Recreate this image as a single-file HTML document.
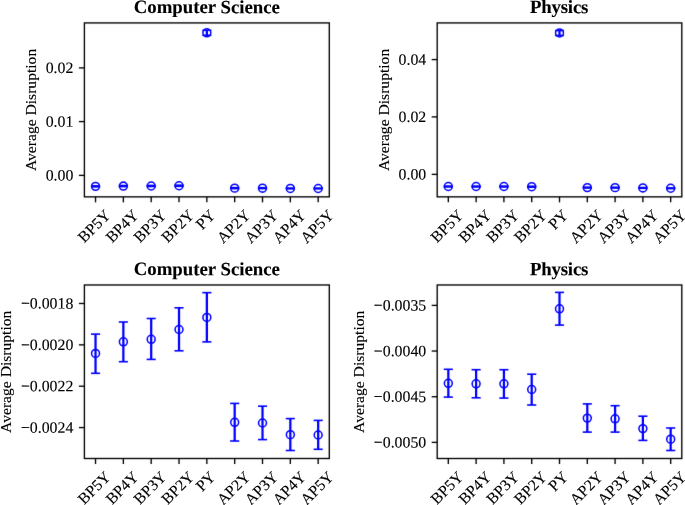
<!DOCTYPE html><html><head><meta charset="utf-8"><style>html,body{margin:0;padding:0;background:#fff;}svg{display:block;}text{font-family:"Liberation Serif",serif;fill:#000;}text{stroke:#000;stroke-width:0.12px;}</style></head><body>
<svg width="685" height="505" viewBox="0 0 685 505">
<defs><filter id="bl" x="0" y="0" width="685" height="505" filterUnits="userSpaceOnUse" color-interpolation-filters="sRGB"><feConvolveMatrix order="3" kernelMatrix="0.0064 0.0672 0.0064 0.0672 0.7056 0.0672 0.0064 0.0672 0.0064" divisor="1" edgeMode="duplicate"/></filter><filter id="tb" x="0" y="0" width="685" height="505" filterUnits="userSpaceOnUse" color-interpolation-filters="sRGB"><feConvolveMatrix order="3" kernelMatrix="0.0000 0.0010 0.0000 0.0010 0.9960 0.0010 0.0000 0.0010 0.0000" divisor="1" edgeMode="duplicate"/></filter></defs>
<rect width="685" height="505" fill="#fff"/>
<g filter="url(#bl)">
<line x1="95.53" y1="185.85" x2="95.53" y2="186.87" stroke="#0000ff" stroke-width="2.25"/>
<line x1="90.98" y1="185.85" x2="100.08" y2="185.85" stroke="#0000ff" stroke-width="1.6"/>
<line x1="90.98" y1="186.87" x2="100.08" y2="186.87" stroke="#0000ff" stroke-width="1.6"/>
<circle cx="95.53" cy="186.35" r="3.95" fill="none" stroke="#0000ff" stroke-width="1.55"/>
<line x1="123.36" y1="185.53" x2="123.36" y2="186.57" stroke="#0000ff" stroke-width="2.25"/>
<line x1="118.81" y1="185.53" x2="127.91" y2="185.53" stroke="#0000ff" stroke-width="1.6"/>
<line x1="118.81" y1="186.57" x2="127.91" y2="186.57" stroke="#0000ff" stroke-width="1.6"/>
<circle cx="123.36" cy="186.05" r="3.95" fill="none" stroke="#0000ff" stroke-width="1.55"/>
<line x1="151.19" y1="185.44" x2="151.19" y2="186.51" stroke="#0000ff" stroke-width="2.25"/>
<line x1="146.64" y1="185.44" x2="155.74" y2="185.44" stroke="#0000ff" stroke-width="1.6"/>
<line x1="146.64" y1="186.51" x2="155.74" y2="186.51" stroke="#0000ff" stroke-width="1.6"/>
<circle cx="151.19" cy="185.98" r="3.95" fill="none" stroke="#0000ff" stroke-width="1.55"/>
<line x1="179.02" y1="185.17" x2="179.02" y2="186.28" stroke="#0000ff" stroke-width="2.25"/>
<line x1="174.47" y1="185.17" x2="183.57" y2="185.17" stroke="#0000ff" stroke-width="1.6"/>
<line x1="174.47" y1="186.28" x2="183.57" y2="186.28" stroke="#0000ff" stroke-width="1.6"/>
<circle cx="179.02" cy="185.73" r="3.95" fill="none" stroke="#0000ff" stroke-width="1.55"/>
<line x1="206.85" y1="30.3" x2="206.85" y2="35.3" stroke="#0000ff" stroke-width="2.25"/>
<line x1="202.3" y1="30.3" x2="211.4" y2="30.3" stroke="#0000ff" stroke-width="1.6"/>
<line x1="202.3" y1="35.3" x2="211.4" y2="35.3" stroke="#0000ff" stroke-width="1.6"/>
<circle cx="206.85" cy="32.8" r="3.95" fill="none" stroke="#0000ff" stroke-width="1.55"/>
<line x1="234.68" y1="187.65" x2="234.68" y2="188.63" stroke="#0000ff" stroke-width="2.25"/>
<line x1="230.13" y1="187.65" x2="239.23" y2="187.65" stroke="#0000ff" stroke-width="1.6"/>
<line x1="230.13" y1="188.63" x2="239.23" y2="188.63" stroke="#0000ff" stroke-width="1.6"/>
<circle cx="234.68" cy="188.14" r="3.95" fill="none" stroke="#0000ff" stroke-width="1.55"/>
<line x1="262.51" y1="187.72" x2="262.51" y2="188.59" stroke="#0000ff" stroke-width="2.25"/>
<line x1="257.96" y1="187.72" x2="267.06" y2="187.72" stroke="#0000ff" stroke-width="1.6"/>
<line x1="257.96" y1="188.59" x2="267.06" y2="188.59" stroke="#0000ff" stroke-width="1.6"/>
<circle cx="262.51" cy="188.16" r="3.95" fill="none" stroke="#0000ff" stroke-width="1.55"/>
<line x1="290.34" y1="188.04" x2="290.34" y2="188.87" stroke="#0000ff" stroke-width="2.25"/>
<line x1="285.79" y1="188.04" x2="294.89" y2="188.04" stroke="#0000ff" stroke-width="1.6"/>
<line x1="285.79" y1="188.87" x2="294.89" y2="188.87" stroke="#0000ff" stroke-width="1.6"/>
<circle cx="290.34" cy="188.46" r="3.95" fill="none" stroke="#0000ff" stroke-width="1.55"/>
<line x1="318.17" y1="188.09" x2="318.17" y2="188.84" stroke="#0000ff" stroke-width="2.25"/>
<line x1="313.62" y1="188.09" x2="322.72" y2="188.09" stroke="#0000ff" stroke-width="1.6"/>
<line x1="313.62" y1="188.84" x2="322.72" y2="188.84" stroke="#0000ff" stroke-width="1.6"/>
<circle cx="318.17" cy="188.47" r="3.95" fill="none" stroke="#0000ff" stroke-width="1.55"/>
<rect x="84.4" y="22.92" width="244.9" height="173.93" fill="none" stroke="#000" stroke-width="1.35"/>
<line x1="95.53" y1="196.85" x2="95.53" y2="202.35" stroke="#000" stroke-width="1.35"/>
<line x1="123.36" y1="196.85" x2="123.36" y2="202.35" stroke="#000" stroke-width="1.35"/>
<line x1="151.19" y1="196.85" x2="151.19" y2="202.35" stroke="#000" stroke-width="1.35"/>
<line x1="179.02" y1="196.85" x2="179.02" y2="202.35" stroke="#000" stroke-width="1.35"/>
<line x1="206.85" y1="196.85" x2="206.85" y2="202.35" stroke="#000" stroke-width="1.35"/>
<line x1="234.68" y1="196.85" x2="234.68" y2="202.35" stroke="#000" stroke-width="1.35"/>
<line x1="262.51" y1="196.85" x2="262.51" y2="202.35" stroke="#000" stroke-width="1.35"/>
<line x1="290.34" y1="196.85" x2="290.34" y2="202.35" stroke="#000" stroke-width="1.35"/>
<line x1="318.17" y1="196.85" x2="318.17" y2="202.35" stroke="#000" stroke-width="1.35"/>
<line x1="78.9" y1="67.9" x2="84.4" y2="67.9" stroke="#000" stroke-width="1.35"/>
<line x1="78.9" y1="121.6" x2="84.4" y2="121.6" stroke="#000" stroke-width="1.35"/>
<line x1="78.9" y1="175.38" x2="84.4" y2="175.38" stroke="#000" stroke-width="1.35"/>
<line x1="448.32" y1="186.07" x2="448.32" y2="186.95" stroke="#0000ff" stroke-width="2.25"/>
<line x1="443.77" y1="186.07" x2="452.87" y2="186.07" stroke="#0000ff" stroke-width="1.6"/>
<line x1="443.77" y1="186.95" x2="452.87" y2="186.95" stroke="#0000ff" stroke-width="1.6"/>
<circle cx="448.32" cy="186.51" r="3.95" fill="none" stroke="#0000ff" stroke-width="1.55"/>
<line x1="476.11" y1="186.09" x2="476.11" y2="186.97" stroke="#0000ff" stroke-width="2.25"/>
<line x1="471.56" y1="186.09" x2="480.66" y2="186.09" stroke="#0000ff" stroke-width="1.6"/>
<line x1="471.56" y1="186.97" x2="480.66" y2="186.97" stroke="#0000ff" stroke-width="1.6"/>
<circle cx="476.11" cy="186.53" r="3.95" fill="none" stroke="#0000ff" stroke-width="1.55"/>
<line x1="503.91" y1="186.09" x2="503.91" y2="186.98" stroke="#0000ff" stroke-width="2.25"/>
<line x1="499.36" y1="186.09" x2="508.46" y2="186.09" stroke="#0000ff" stroke-width="1.6"/>
<line x1="499.36" y1="186.98" x2="508.46" y2="186.98" stroke="#0000ff" stroke-width="1.6"/>
<circle cx="503.91" cy="186.53" r="3.95" fill="none" stroke="#0000ff" stroke-width="1.55"/>
<line x1="531.7" y1="186.23" x2="531.7" y2="187.2" stroke="#0000ff" stroke-width="2.25"/>
<line x1="527.15" y1="186.23" x2="536.25" y2="186.23" stroke="#0000ff" stroke-width="1.6"/>
<line x1="527.15" y1="187.2" x2="536.25" y2="187.2" stroke="#0000ff" stroke-width="1.6"/>
<circle cx="531.7" cy="186.71" r="3.95" fill="none" stroke="#0000ff" stroke-width="1.55"/>
<line x1="559.5" y1="30.55" x2="559.5" y2="35.45" stroke="#0000ff" stroke-width="2.25"/>
<line x1="554.95" y1="30.55" x2="564.05" y2="30.55" stroke="#0000ff" stroke-width="1.6"/>
<line x1="554.95" y1="35.45" x2="564.05" y2="35.45" stroke="#0000ff" stroke-width="1.6"/>
<circle cx="559.5" cy="33" r="3.95" fill="none" stroke="#0000ff" stroke-width="1.55"/>
<line x1="587.3" y1="187.16" x2="587.3" y2="188.05" stroke="#0000ff" stroke-width="2.25"/>
<line x1="582.75" y1="187.16" x2="591.85" y2="187.16" stroke="#0000ff" stroke-width="1.6"/>
<line x1="582.75" y1="188.05" x2="591.85" y2="188.05" stroke="#0000ff" stroke-width="1.6"/>
<circle cx="587.3" cy="187.61" r="3.95" fill="none" stroke="#0000ff" stroke-width="1.55"/>
<line x1="615.09" y1="187.22" x2="615.09" y2="188.05" stroke="#0000ff" stroke-width="2.25"/>
<line x1="610.54" y1="187.22" x2="619.64" y2="187.22" stroke="#0000ff" stroke-width="1.6"/>
<line x1="610.54" y1="188.05" x2="619.64" y2="188.05" stroke="#0000ff" stroke-width="1.6"/>
<circle cx="615.09" cy="187.63" r="3.95" fill="none" stroke="#0000ff" stroke-width="1.55"/>
<line x1="642.89" y1="187.55" x2="642.89" y2="188.31" stroke="#0000ff" stroke-width="2.25"/>
<line x1="638.34" y1="187.55" x2="647.44" y2="187.55" stroke="#0000ff" stroke-width="1.6"/>
<line x1="638.34" y1="188.31" x2="647.44" y2="188.31" stroke="#0000ff" stroke-width="1.6"/>
<circle cx="642.89" cy="187.94" r="3.95" fill="none" stroke="#0000ff" stroke-width="1.55"/>
<line x1="670.68" y1="187.92" x2="670.68" y2="188.63" stroke="#0000ff" stroke-width="2.25"/>
<line x1="666.13" y1="187.92" x2="675.23" y2="187.92" stroke="#0000ff" stroke-width="1.6"/>
<line x1="666.13" y1="188.63" x2="675.23" y2="188.63" stroke="#0000ff" stroke-width="1.6"/>
<circle cx="670.68" cy="188.27" r="3.95" fill="none" stroke="#0000ff" stroke-width="1.55"/>
<rect x="437.2" y="22.92" width="244.6" height="173.93" fill="none" stroke="#000" stroke-width="1.35"/>
<line x1="448.32" y1="196.85" x2="448.32" y2="202.35" stroke="#000" stroke-width="1.35"/>
<line x1="476.11" y1="196.85" x2="476.11" y2="202.35" stroke="#000" stroke-width="1.35"/>
<line x1="503.91" y1="196.85" x2="503.91" y2="202.35" stroke="#000" stroke-width="1.35"/>
<line x1="531.7" y1="196.85" x2="531.7" y2="202.35" stroke="#000" stroke-width="1.35"/>
<line x1="559.5" y1="196.85" x2="559.5" y2="202.35" stroke="#000" stroke-width="1.35"/>
<line x1="587.3" y1="196.85" x2="587.3" y2="202.35" stroke="#000" stroke-width="1.35"/>
<line x1="615.09" y1="196.85" x2="615.09" y2="202.35" stroke="#000" stroke-width="1.35"/>
<line x1="642.89" y1="196.85" x2="642.89" y2="202.35" stroke="#000" stroke-width="1.35"/>
<line x1="670.68" y1="196.85" x2="670.68" y2="202.35" stroke="#000" stroke-width="1.35"/>
<line x1="431.7" y1="59.58" x2="437.2" y2="59.58" stroke="#000" stroke-width="1.35"/>
<line x1="431.7" y1="116.9" x2="437.2" y2="116.9" stroke="#000" stroke-width="1.35"/>
<line x1="431.7" y1="174.37" x2="437.2" y2="174.37" stroke="#000" stroke-width="1.35"/>
<line x1="95.53" y1="334.1" x2="95.53" y2="373.3" stroke="#0000ff" stroke-width="2.25"/>
<line x1="90.98" y1="334.1" x2="100.08" y2="334.1" stroke="#0000ff" stroke-width="1.6"/>
<line x1="90.98" y1="373.3" x2="100.08" y2="373.3" stroke="#0000ff" stroke-width="1.6"/>
<circle cx="95.53" cy="353.4" r="3.95" fill="none" stroke="#0000ff" stroke-width="1.55"/>
<line x1="123.36" y1="322" x2="123.36" y2="361.7" stroke="#0000ff" stroke-width="2.25"/>
<line x1="118.81" y1="322" x2="127.91" y2="322" stroke="#0000ff" stroke-width="1.6"/>
<line x1="118.81" y1="361.7" x2="127.91" y2="361.7" stroke="#0000ff" stroke-width="1.6"/>
<circle cx="123.36" cy="341.8" r="3.95" fill="none" stroke="#0000ff" stroke-width="1.55"/>
<line x1="151.19" y1="318.5" x2="151.19" y2="359.4" stroke="#0000ff" stroke-width="2.25"/>
<line x1="146.64" y1="318.5" x2="155.74" y2="318.5" stroke="#0000ff" stroke-width="1.6"/>
<line x1="146.64" y1="359.4" x2="155.74" y2="359.4" stroke="#0000ff" stroke-width="1.6"/>
<circle cx="151.19" cy="339.3" r="3.95" fill="none" stroke="#0000ff" stroke-width="1.55"/>
<line x1="179.02" y1="307.8" x2="179.02" y2="350.8" stroke="#0000ff" stroke-width="2.25"/>
<line x1="174.47" y1="307.8" x2="183.57" y2="307.8" stroke="#0000ff" stroke-width="1.6"/>
<line x1="174.47" y1="350.8" x2="183.57" y2="350.8" stroke="#0000ff" stroke-width="1.6"/>
<circle cx="179.02" cy="329.5" r="3.95" fill="none" stroke="#0000ff" stroke-width="1.55"/>
<line x1="206.85" y1="292.65" x2="206.85" y2="341.9" stroke="#0000ff" stroke-width="2.25"/>
<line x1="202.3" y1="292.65" x2="211.4" y2="292.65" stroke="#0000ff" stroke-width="1.6"/>
<line x1="202.3" y1="341.9" x2="211.4" y2="341.9" stroke="#0000ff" stroke-width="1.6"/>
<circle cx="206.85" cy="317.4" r="3.95" fill="none" stroke="#0000ff" stroke-width="1.55"/>
<line x1="234.68" y1="403.4" x2="234.68" y2="441" stroke="#0000ff" stroke-width="2.25"/>
<line x1="230.13" y1="403.4" x2="239.23" y2="403.4" stroke="#0000ff" stroke-width="1.6"/>
<line x1="230.13" y1="441" x2="239.23" y2="441" stroke="#0000ff" stroke-width="1.6"/>
<circle cx="234.68" cy="422.3" r="3.95" fill="none" stroke="#0000ff" stroke-width="1.55"/>
<line x1="262.51" y1="406.2" x2="262.51" y2="439.6" stroke="#0000ff" stroke-width="2.25"/>
<line x1="257.96" y1="406.2" x2="267.06" y2="406.2" stroke="#0000ff" stroke-width="1.6"/>
<line x1="257.96" y1="439.6" x2="267.06" y2="439.6" stroke="#0000ff" stroke-width="1.6"/>
<circle cx="262.51" cy="423" r="3.95" fill="none" stroke="#0000ff" stroke-width="1.55"/>
<line x1="290.34" y1="418.6" x2="290.34" y2="450.5" stroke="#0000ff" stroke-width="2.25"/>
<line x1="285.79" y1="418.6" x2="294.89" y2="418.6" stroke="#0000ff" stroke-width="1.6"/>
<line x1="285.79" y1="450.5" x2="294.89" y2="450.5" stroke="#0000ff" stroke-width="1.6"/>
<circle cx="290.34" cy="434.7" r="3.95" fill="none" stroke="#0000ff" stroke-width="1.55"/>
<line x1="318.17" y1="420.4" x2="318.17" y2="449.3" stroke="#0000ff" stroke-width="2.25"/>
<line x1="313.62" y1="420.4" x2="322.72" y2="420.4" stroke="#0000ff" stroke-width="1.6"/>
<line x1="313.62" y1="449.3" x2="322.72" y2="449.3" stroke="#0000ff" stroke-width="1.6"/>
<circle cx="318.17" cy="435" r="3.95" fill="none" stroke="#0000ff" stroke-width="1.55"/>
<rect x="84.4" y="284.97" width="244.9" height="173.53" fill="none" stroke="#000" stroke-width="1.35"/>
<line x1="95.53" y1="458.5" x2="95.53" y2="464" stroke="#000" stroke-width="1.35"/>
<line x1="123.36" y1="458.5" x2="123.36" y2="464" stroke="#000" stroke-width="1.35"/>
<line x1="151.19" y1="458.5" x2="151.19" y2="464" stroke="#000" stroke-width="1.35"/>
<line x1="179.02" y1="458.5" x2="179.02" y2="464" stroke="#000" stroke-width="1.35"/>
<line x1="206.85" y1="458.5" x2="206.85" y2="464" stroke="#000" stroke-width="1.35"/>
<line x1="234.68" y1="458.5" x2="234.68" y2="464" stroke="#000" stroke-width="1.35"/>
<line x1="262.51" y1="458.5" x2="262.51" y2="464" stroke="#000" stroke-width="1.35"/>
<line x1="290.34" y1="458.5" x2="290.34" y2="464" stroke="#000" stroke-width="1.35"/>
<line x1="318.17" y1="458.5" x2="318.17" y2="464" stroke="#000" stroke-width="1.35"/>
<line x1="78.9" y1="303.47" x2="84.4" y2="303.47" stroke="#000" stroke-width="1.35"/>
<line x1="78.9" y1="344.84" x2="84.4" y2="344.84" stroke="#000" stroke-width="1.35"/>
<line x1="78.9" y1="386.21" x2="84.4" y2="386.21" stroke="#000" stroke-width="1.35"/>
<line x1="78.9" y1="427.58" x2="84.4" y2="427.58" stroke="#000" stroke-width="1.35"/>
<line x1="448.32" y1="369.3" x2="448.32" y2="397.1" stroke="#0000ff" stroke-width="2.25"/>
<line x1="443.77" y1="369.3" x2="452.87" y2="369.3" stroke="#0000ff" stroke-width="1.6"/>
<line x1="443.77" y1="397.1" x2="452.87" y2="397.1" stroke="#0000ff" stroke-width="1.6"/>
<circle cx="448.32" cy="383.3" r="3.95" fill="none" stroke="#0000ff" stroke-width="1.55"/>
<line x1="476.11" y1="369.7" x2="476.11" y2="397.8" stroke="#0000ff" stroke-width="2.25"/>
<line x1="471.56" y1="369.7" x2="480.66" y2="369.7" stroke="#0000ff" stroke-width="1.6"/>
<line x1="471.56" y1="397.8" x2="480.66" y2="397.8" stroke="#0000ff" stroke-width="1.6"/>
<circle cx="476.11" cy="383.8" r="3.95" fill="none" stroke="#0000ff" stroke-width="1.55"/>
<line x1="503.91" y1="369.7" x2="503.91" y2="398.1" stroke="#0000ff" stroke-width="2.25"/>
<line x1="499.36" y1="369.7" x2="508.46" y2="369.7" stroke="#0000ff" stroke-width="1.6"/>
<line x1="499.36" y1="398.1" x2="508.46" y2="398.1" stroke="#0000ff" stroke-width="1.6"/>
<circle cx="503.91" cy="383.8" r="3.95" fill="none" stroke="#0000ff" stroke-width="1.55"/>
<line x1="531.7" y1="374.2" x2="531.7" y2="405" stroke="#0000ff" stroke-width="2.25"/>
<line x1="527.15" y1="374.2" x2="536.25" y2="374.2" stroke="#0000ff" stroke-width="1.6"/>
<line x1="527.15" y1="405" x2="536.25" y2="405" stroke="#0000ff" stroke-width="1.6"/>
<circle cx="531.7" cy="389.5" r="3.95" fill="none" stroke="#0000ff" stroke-width="1.55"/>
<line x1="559.5" y1="292.4" x2="559.5" y2="325.1" stroke="#0000ff" stroke-width="2.25"/>
<line x1="554.95" y1="292.4" x2="564.05" y2="292.4" stroke="#0000ff" stroke-width="1.6"/>
<line x1="554.95" y1="325.1" x2="564.05" y2="325.1" stroke="#0000ff" stroke-width="1.6"/>
<circle cx="559.5" cy="308.8" r="3.95" fill="none" stroke="#0000ff" stroke-width="1.55"/>
<line x1="587.3" y1="403.9" x2="587.3" y2="432.1" stroke="#0000ff" stroke-width="2.25"/>
<line x1="582.75" y1="403.9" x2="591.85" y2="403.9" stroke="#0000ff" stroke-width="1.6"/>
<line x1="582.75" y1="432.1" x2="591.85" y2="432.1" stroke="#0000ff" stroke-width="1.6"/>
<circle cx="587.3" cy="418.1" r="3.95" fill="none" stroke="#0000ff" stroke-width="1.55"/>
<line x1="615.09" y1="405.7" x2="615.09" y2="432.1" stroke="#0000ff" stroke-width="2.25"/>
<line x1="610.54" y1="405.7" x2="619.64" y2="405.7" stroke="#0000ff" stroke-width="1.6"/>
<line x1="610.54" y1="432.1" x2="619.64" y2="432.1" stroke="#0000ff" stroke-width="1.6"/>
<circle cx="615.09" cy="418.8" r="3.95" fill="none" stroke="#0000ff" stroke-width="1.55"/>
<line x1="642.89" y1="416.2" x2="642.89" y2="440.4" stroke="#0000ff" stroke-width="2.25"/>
<line x1="638.34" y1="416.2" x2="647.44" y2="416.2" stroke="#0000ff" stroke-width="1.6"/>
<line x1="638.34" y1="440.4" x2="647.44" y2="440.4" stroke="#0000ff" stroke-width="1.6"/>
<circle cx="642.89" cy="428.6" r="3.95" fill="none" stroke="#0000ff" stroke-width="1.55"/>
<line x1="670.68" y1="428" x2="670.68" y2="450.5" stroke="#0000ff" stroke-width="2.25"/>
<line x1="666.13" y1="428" x2="675.23" y2="428" stroke="#0000ff" stroke-width="1.6"/>
<line x1="666.13" y1="450.5" x2="675.23" y2="450.5" stroke="#0000ff" stroke-width="1.6"/>
<circle cx="670.68" cy="439.2" r="3.95" fill="none" stroke="#0000ff" stroke-width="1.55"/>
<rect x="437.2" y="284.97" width="244.6" height="173.53" fill="none" stroke="#000" stroke-width="1.35"/>
<line x1="448.32" y1="458.5" x2="448.32" y2="464" stroke="#000" stroke-width="1.35"/>
<line x1="476.11" y1="458.5" x2="476.11" y2="464" stroke="#000" stroke-width="1.35"/>
<line x1="503.91" y1="458.5" x2="503.91" y2="464" stroke="#000" stroke-width="1.35"/>
<line x1="531.7" y1="458.5" x2="531.7" y2="464" stroke="#000" stroke-width="1.35"/>
<line x1="559.5" y1="458.5" x2="559.5" y2="464" stroke="#000" stroke-width="1.35"/>
<line x1="587.3" y1="458.5" x2="587.3" y2="464" stroke="#000" stroke-width="1.35"/>
<line x1="615.09" y1="458.5" x2="615.09" y2="464" stroke="#000" stroke-width="1.35"/>
<line x1="642.89" y1="458.5" x2="642.89" y2="464" stroke="#000" stroke-width="1.35"/>
<line x1="670.68" y1="458.5" x2="670.68" y2="464" stroke="#000" stroke-width="1.35"/>
<line x1="431.7" y1="305.39" x2="437.2" y2="305.39" stroke="#000" stroke-width="1.35"/>
<line x1="431.7" y1="351.05" x2="437.2" y2="351.05" stroke="#000" stroke-width="1.35"/>
<line x1="431.7" y1="396.72" x2="437.2" y2="396.72" stroke="#000" stroke-width="1.35"/>
<line x1="431.7" y1="442.38" x2="437.2" y2="442.38" stroke="#000" stroke-width="1.35"/>
</g>
<g filter="url(#tb)">
<text x="84.33" y="243.5" font-size="15.8" transform="rotate(-45 84.33 243.5)">BP5Y</text>
<text x="112.16" y="243.5" font-size="15.8" transform="rotate(-45 112.16 243.5)">BP4Y</text>
<text x="139.99" y="243.5" font-size="15.8" transform="rotate(-45 139.99 243.5)">BP3Y</text>
<text x="167.82" y="243.5" font-size="15.8" transform="rotate(-45 167.82 243.5)">BP2Y</text>
<text x="202.16" y="230.48" font-size="15.8" transform="rotate(-45 202.16 230.48)">PY</text>
<text x="223.28" y="244.11" font-size="15.8" transform="rotate(-45 223.28 244.11)">AP2Y</text>
<text x="251.11" y="244.11" font-size="15.8" transform="rotate(-45 251.11 244.11)">AP3Y</text>
<text x="278.94" y="244.11" font-size="15.8" transform="rotate(-45 278.94 244.11)">AP4Y</text>
<text x="306.77" y="244.11" font-size="15.8" transform="rotate(-45 306.77 244.11)">AP5Y</text>
<text x="73.3" y="73.08" font-size="15.8" text-anchor="end" transform="rotate(0.1 73.30 73.08)">0.02</text>
<text x="73.3" y="126.78" font-size="15.8" text-anchor="end" transform="rotate(0.1 73.30 126.78)">0.01</text>
<text x="73.3" y="180.56" font-size="15.8" text-anchor="end" transform="rotate(0.1 73.30 180.56)">0.00</text>
<text x="36" y="109.93" font-size="15.6" text-anchor="middle" transform="rotate(-90 36 109.93)">Average Disruption</text>
<text x="206.85" y="13.1" font-size="18.8" font-weight="bold" text-anchor="middle" transform="rotate(0.1 206.85 13.10)">Computer Science</text>
<text x="437.12" y="243.5" font-size="15.8" transform="rotate(-45 437.12 243.5)">BP5Y</text>
<text x="464.91" y="243.5" font-size="15.8" transform="rotate(-45 464.91 243.5)">BP4Y</text>
<text x="492.71" y="243.5" font-size="15.8" transform="rotate(-45 492.71 243.5)">BP3Y</text>
<text x="520.5" y="243.5" font-size="15.8" transform="rotate(-45 520.5 243.5)">BP2Y</text>
<text x="554.81" y="230.48" font-size="15.8" transform="rotate(-45 554.81 230.48)">PY</text>
<text x="575.9" y="244.11" font-size="15.8" transform="rotate(-45 575.9 244.11)">AP2Y</text>
<text x="603.7" y="244.11" font-size="15.8" transform="rotate(-45 603.7 244.11)">AP3Y</text>
<text x="631.49" y="244.11" font-size="15.8" transform="rotate(-45 631.49 244.11)">AP4Y</text>
<text x="659.29" y="244.11" font-size="15.8" transform="rotate(-45 659.29 244.11)">AP5Y</text>
<text x="426.2" y="64.76" font-size="15.8" text-anchor="end" transform="rotate(0.1 426.20 64.76)">0.04</text>
<text x="426.2" y="122.08" font-size="15.8" text-anchor="end" transform="rotate(0.1 426.20 122.08)">0.02</text>
<text x="426.2" y="179.55" font-size="15.8" text-anchor="end" transform="rotate(0.1 426.20 179.55)">0.00</text>
<text x="389" y="109.93" font-size="15.6" text-anchor="middle" transform="rotate(-90 389 109.93)">Average Disruption</text>
<text x="559.1" y="13.1" font-size="18.8" font-weight="bold" text-anchor="middle" letter-spacing="-0.18" transform="rotate(0.1 559.10 13.10)">Physics</text>
<text x="84.33" y="505.15" font-size="15.8" transform="rotate(-45 84.33 505.15)">BP5Y</text>
<text x="112.16" y="505.15" font-size="15.8" transform="rotate(-45 112.16 505.15)">BP4Y</text>
<text x="139.99" y="505.15" font-size="15.8" transform="rotate(-45 139.99 505.15)">BP3Y</text>
<text x="167.82" y="505.15" font-size="15.8" transform="rotate(-45 167.82 505.15)">BP2Y</text>
<text x="202.16" y="492.13" font-size="15.8" transform="rotate(-45 202.16 492.13)">PY</text>
<text x="223.28" y="505.76" font-size="15.8" transform="rotate(-45 223.28 505.76)">AP2Y</text>
<text x="251.11" y="505.76" font-size="15.8" transform="rotate(-45 251.11 505.76)">AP3Y</text>
<text x="278.94" y="505.76" font-size="15.8" transform="rotate(-45 278.94 505.76)">AP4Y</text>
<text x="306.77" y="505.76" font-size="15.8" transform="rotate(-45 306.77 505.76)">AP5Y</text>
<text x="73.3" y="308.65" font-size="15.8" text-anchor="end" transform="rotate(0.1 73.30 308.65)">−0.0018</text>
<text x="73.3" y="350.02" font-size="15.8" text-anchor="end" transform="rotate(0.1 73.30 350.02)">−0.0020</text>
<text x="73.3" y="391.39" font-size="15.8" text-anchor="end" transform="rotate(0.1 73.30 391.39)">−0.0022</text>
<text x="73.3" y="432.76" font-size="15.8" text-anchor="end" transform="rotate(0.1 73.30 432.76)">−0.0024</text>
<text x="11" y="371.79" font-size="15.6" text-anchor="middle" transform="rotate(-90 11 371.79)">Average Disruption</text>
<text x="206.85" y="275.2" font-size="18.8" font-weight="bold" text-anchor="middle" transform="rotate(0.1 206.85 275.20)">Computer Science</text>
<text x="437.12" y="505.15" font-size="15.8" transform="rotate(-45 437.12 505.15)">BP5Y</text>
<text x="464.91" y="505.15" font-size="15.8" transform="rotate(-45 464.91 505.15)">BP4Y</text>
<text x="492.71" y="505.15" font-size="15.8" transform="rotate(-45 492.71 505.15)">BP3Y</text>
<text x="520.5" y="505.15" font-size="15.8" transform="rotate(-45 520.5 505.15)">BP2Y</text>
<text x="554.81" y="492.13" font-size="15.8" transform="rotate(-45 554.81 492.13)">PY</text>
<text x="575.9" y="505.76" font-size="15.8" transform="rotate(-45 575.9 505.76)">AP2Y</text>
<text x="603.7" y="505.76" font-size="15.8" transform="rotate(-45 603.7 505.76)">AP3Y</text>
<text x="631.49" y="505.76" font-size="15.8" transform="rotate(-45 631.49 505.76)">AP4Y</text>
<text x="659.29" y="505.76" font-size="15.8" transform="rotate(-45 659.29 505.76)">AP5Y</text>
<text x="426.2" y="310.57" font-size="15.8" text-anchor="end" transform="rotate(0.1 426.20 310.57)">−0.0035</text>
<text x="426.2" y="356.23" font-size="15.8" text-anchor="end" transform="rotate(0.1 426.20 356.23)">−0.0040</text>
<text x="426.2" y="401.9" font-size="15.8" text-anchor="end" transform="rotate(0.1 426.20 401.90)">−0.0045</text>
<text x="426.2" y="447.56" font-size="15.8" text-anchor="end" transform="rotate(0.1 426.20 447.56)">−0.0050</text>
<text x="364" y="371.79" font-size="15.6" text-anchor="middle" transform="rotate(-90 364 371.79)">Average Disruption</text>
<text x="559.1" y="275.2" font-size="18.8" font-weight="bold" text-anchor="middle" letter-spacing="-0.18" transform="rotate(0.1 559.10 275.20)">Physics</text>
</g>
</svg></body></html>
